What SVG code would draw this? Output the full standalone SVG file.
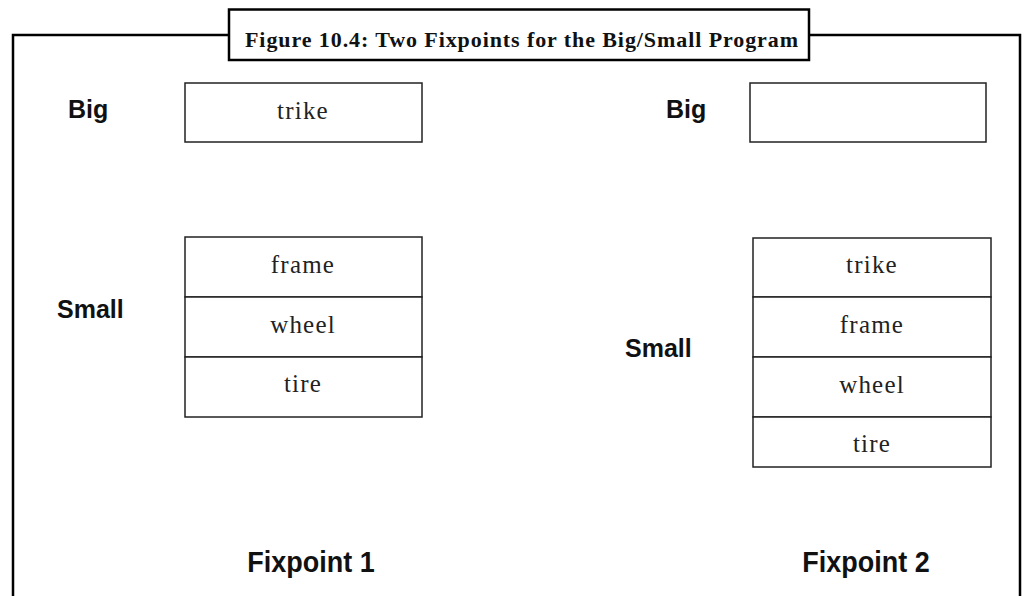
<svg xmlns="http://www.w3.org/2000/svg" width="1029" height="596" viewBox="0 0 1029 596">
<style>
.frame{fill:none;stroke:#000;stroke-width:2.5}
.box{fill:#fff;stroke:#222;stroke-width:1.5}
.lbl{font-family:"Liberation Sans",Arial,sans-serif;font-weight:bold;font-size:25px;fill:#111}
.fix{font-family:"Liberation Sans",Arial,sans-serif;font-weight:bold;font-size:29px;fill:#111}
.cell{font-family:"Liberation Serif","Times New Roman",serif;font-size:25px;letter-spacing:1.2px;fill:#222;text-anchor:middle}
.title{font-family:"Liberation Serif","Times New Roman",serif;font-weight:bold;font-size:22px;fill:#111}
</style>
<rect width="1029" height="596" fill="#fff"/>
<g id="frame">
<path class="frame" d="M13,600 V35 H229 M809,35 H1020 V600"/>
</g>
<g id="title">
<rect x="229" y="9.5" width="580" height="50.5" fill="#fff" stroke="#000" stroke-width="2.5"/>
<text class="title" x="245" y="47" textLength="553" lengthAdjust="spacing">Figure 10.4: Two Fixpoints for the Big/Small Program</text>
</g>
<g id="fixpoint1">
<text class="lbl" x="68" y="118">Big</text>
<rect class="box" x="185" y="83" width="237" height="59"/>
<text class="cell" x="303" y="119">trike</text>
<text class="lbl" x="57" y="318">Small</text>
<rect class="box" x="185" y="237" width="237" height="60"/>
<rect class="box" x="185" y="297" width="237" height="60"/>
<rect class="box" x="185" y="357" width="237" height="60"/>
<text class="cell" x="303" y="273">frame</text>
<text class="cell" x="303" y="333">wheel</text>
<text class="cell" x="303" y="392">tire</text>
<text class="fix" x="311" y="572" text-anchor="middle" transform="translate(311 0) scale(0.93 1) translate(-311 0)">Fixpoint 1</text>
</g>
<g id="fixpoint2">
<text class="lbl" x="666" y="118">Big</text>
<rect class="box" x="750" y="83" width="236" height="59"/>
<text class="lbl" x="625" y="357">Small</text>
<rect class="box" x="753" y="238" width="238" height="59"/>
<rect class="box" x="753" y="297" width="238" height="60"/>
<rect class="box" x="753" y="357" width="238" height="60"/>
<rect class="box" x="753" y="417" width="238" height="50"/>
<text class="cell" x="872" y="273">trike</text>
<text class="cell" x="872" y="333">frame</text>
<text class="cell" x="872" y="393">wheel</text>
<text class="cell" x="872" y="452">tire</text>
<text class="fix" x="866" y="572" text-anchor="middle" transform="translate(866 0) scale(0.93 1) translate(-866 0)">Fixpoint 2</text>
</g>
</svg>
